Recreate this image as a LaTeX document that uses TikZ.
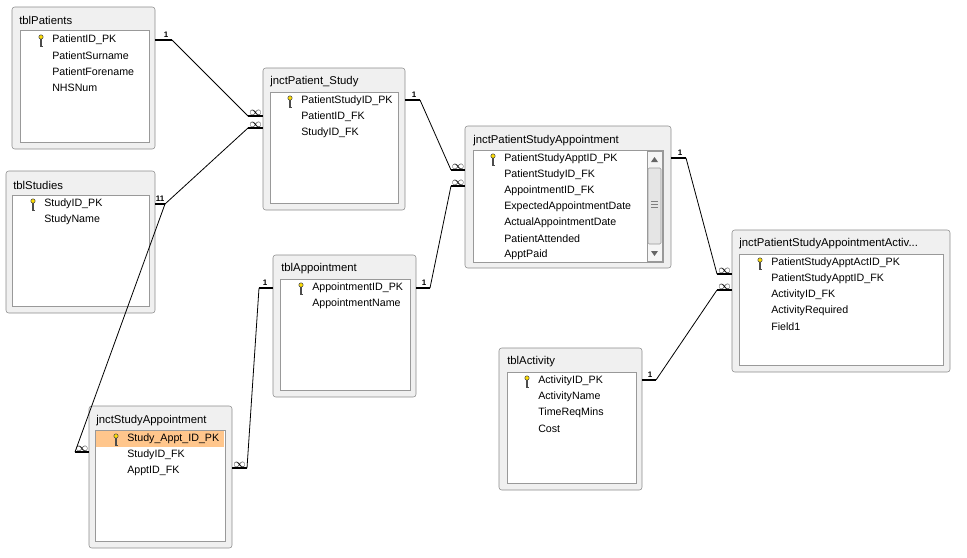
\documentclass[tikz,border=0pt]{standalone}
\usepackage{fontspec}
\setmainfont{Liberation Sans}
\usetikzlibrary{calc}
\newcommand{\keyicon}[1]{%
  \draw[draw=black!70,fill=yellow!80!orange] ($(#1)+(0,-3)$) circle (2.2);
  \draw[black!70,line width=0.9pt] ($(#1)+(0,-0.8)$) -- ++(0,7) -- ++(2,0);}
\begin{document}
\begin{tikzpicture}[x=0.75pt,y=-0.75pt,
     win/.style={draw=black!45,fill=black!6,rounded corners=2pt},
     lst/.style={draw=black!40,fill=white},
     ttl/.style={anchor=west,font=\fontsize{8.5}{10}\selectfont,inner sep=0pt},
     fld/.style={anchor=west,font=\fontsize{8}{9}\selectfont,inner sep=0pt},
     card/.style={line width=2pt},
     rel/.style={draw=black,line width=0.6pt},
     cnum/.style={font=\fontsize{6}{6}\selectfont\bfseries,inner sep=0pt},
     cinf/.style={font=\bfseries\fontsize{9}{9}\selectfont,inner sep=0pt}
   ]
   \path[use as bounding box,fill=white] (0,0) rectangle (967,557);
   % Tables.
   \draw[win] (12,7) rectangle (155,149);   \draw[lst] (20,30) rectangle (149,142);
   \node[ttl] (tpat) at (19,20) {tblPatients};
   \foreach \t [count=\i] in {PatientID\_PK,PatientSurname,PatientForename,NHSNum}
     \node[fld] (pa\i) at (52,24+16*\i) {\t};
   \keyicon{41,40}
   \draw[win] (6,171) rectangle (155,313);  \draw[lst] (12,195) rectangle (149,306);
   \node[ttl] (tstu) at (13,185) {tblStudies};
   \foreach \t [count=\i] in {StudyID\_PK,StudyName}
     \node[fld] (st\i) at (44,188+16*\i) {\t};
   \keyicon{33,204}
   \draw[win] (263,68) rectangle (405,210); \draw[lst] (270,92) rectangle (398,203);
   \node[ttl] (tps) at (270,82) {jnctPatient\_Study};
   \foreach \t [count=\i] in {PatientStudyID\_PK,PatientID\_FK,StudyID\_FK}
     \node[fld] (ps\i) at (301,85+16*\i) {\t};
   \keyicon{290,101}
   \draw[win] (465,126) rectangle (671,268); \draw[lst] (473,150) rectangle (663,262);
   \node[ttl] (tpsa) at (473,141) {jnctPatientStudyAppointment};
   \foreach \t [count=\i] in {PatientStudyApptID\_PK,PatientStudyID\_FK,AppointmentID\_FK,ExpectedAppointmentDate,ActualAppointmentDate,PatientAttended,ApptPaid}
     \node[fld] (sa\i) at (504,143+16*\i) {\t};
   \keyicon{493,159}
   % Scroll bar.
   \draw[black!40,fill=black!4] (647,151) rectangle (662,261);
   \draw[black!40,fill=black!10,rounded corners=1pt] (648,168) rectangle (661,244);
   \foreach \yy in {201,204,207} \draw[black!50] (651,\yy) -- (658,\yy);
   \fill[black!60] (651,162) -- (658,162) -- (654.5,157) -- cycle;
   \fill[black!60] (651,251) -- (658,251) -- (654.5,256) -- cycle;
   \draw[win] (273,255) rectangle (416,397); \draw[lst] (280,279) rectangle (410,390);
   \node[ttl] (tapp) at (281,269) {tblAppointment};
   \foreach \t [count=\i] in {AppointmentID\_PK,AppointmentName}
     \node[fld] (ap\i) at (312,272+16*\i) {\t};
   \keyicon{301,288}
   \draw[win] (89,406) rectangle (232,548); \draw[lst] (95,430) rectangle (225,541);
   \fill[orange!45] (96,431) rectangle (224,447);
   \node[ttl] (tsa) at (96,421) {jnctStudyAppointment};
   \foreach \t [count=\i] in {Study\_Appt\_ID\_PK,StudyID\_FK,ApptID\_FK}
     \node[fld] (js\i) at (127,423+16*\i) {\t};
   \keyicon{116,439}
   \draw[win] (499,348) rectangle (642,490); \draw[lst] (507,372) rectangle (636,483);
   \node[ttl] (tact) at (507,362) {tblActivity};
   \foreach \t [count=\i] in {ActivityID\_PK,ActivityName,TimeReqMins,Cost}
     \node[fld] (ac\i) at (538,365+16*\i) {\t};
   \keyicon{527,381}
   \draw[win] (732,230) rectangle (950,372); \draw[lst] (739,254) rectangle (943,365);
   \node[ttl] (tpaa) at (739,244) {jnctPatientStudyAppointmentActiv...};
   \foreach \t [count=\i] in {PatientStudyApptActID\_PK,PatientStudyApptID\_FK,ActivityID\_FK,ActivityRequired,Field1}
     \node[fld] (aa\i) at (771,247+16*\i) {\t};
   \keyicon{760,263}
   % Relationship ends.
   \coordinate (r1a) at (155,40);  \coordinate (r1b) at (172,40);
   \coordinate (r1c) at (248,116); \coordinate (r1d) at (263,116);
   \coordinate (r2a) at (155,204); \coordinate (r2b) at (165,204);
   \coordinate (r2c) at (248,128); \coordinate (r2d) at (263,128);
   \coordinate (r3a) at (405,100); \coordinate (r3b) at (420,100);
   \coordinate (r3c) at (451,170); \coordinate (r3d) at (465,170);
   \coordinate (r4a) at (416,288); \coordinate (r4b) at (430,288);
   \coordinate (r4c) at (451,186); \coordinate (r4d) at (465,186);
   \coordinate (r5a) at (671,158); \coordinate (r5b) at (686,158);
   \coordinate (r5c) at (717,274); \coordinate (r5d) at (732,274);
   \coordinate (r6a) at (642,380); \coordinate (r6b) at (656,380);
   \coordinate (r6c) at (717,290); \coordinate (r6d) at (732,290);
   \coordinate (r7a) at (273,288); \coordinate (r7b) at (259,288);
   \coordinate (r7c) at (247,468); \coordinate (r7d) at (232,468);
   \coordinate (r8c) at (75,452);  \coordinate (r8d) at (89,452);
   % One-to-many lines.
   \foreach \r in {r1,r2,r3,r4,r5,r6,r7} {
     \draw[card] (\r a) -- (\r b);
     \draw[rel] (\r b) -- (\r c);
     \draw[card] (\r c) -- (\r d);
   }
   \draw[rel] (r2b) -- (r8c);
   \draw[card] (r8c) -- (r8d);
   % Labels.
   \node[cnum] at ($(r1b)+(-6,-5)$) {1};
   \node[cnum] at ($(r2b)+(-5,-5)$) {11};
   \node[cnum] at ($(r3b)+(-6,-5)$) {1};
   \node[cnum] at ($(r4b)+(-6,-5)$) {1};
   \node[cnum] at ($(r5b)+(-6,-5)$) {1};
   \node[cnum] at ($(r6b)+(-6,-5)$) {1};
   \node[cnum] at ($(r7b)+(6,-5)$) {1};
   \foreach \r in {r1,r2,r3,r4,r5,r6,r7,r8}
     \node[cinf] at ($(\r c)!0.5!(\r d)+(0,-3)$) {$\infty$};
 \end{tikzpicture}
\end{document}
